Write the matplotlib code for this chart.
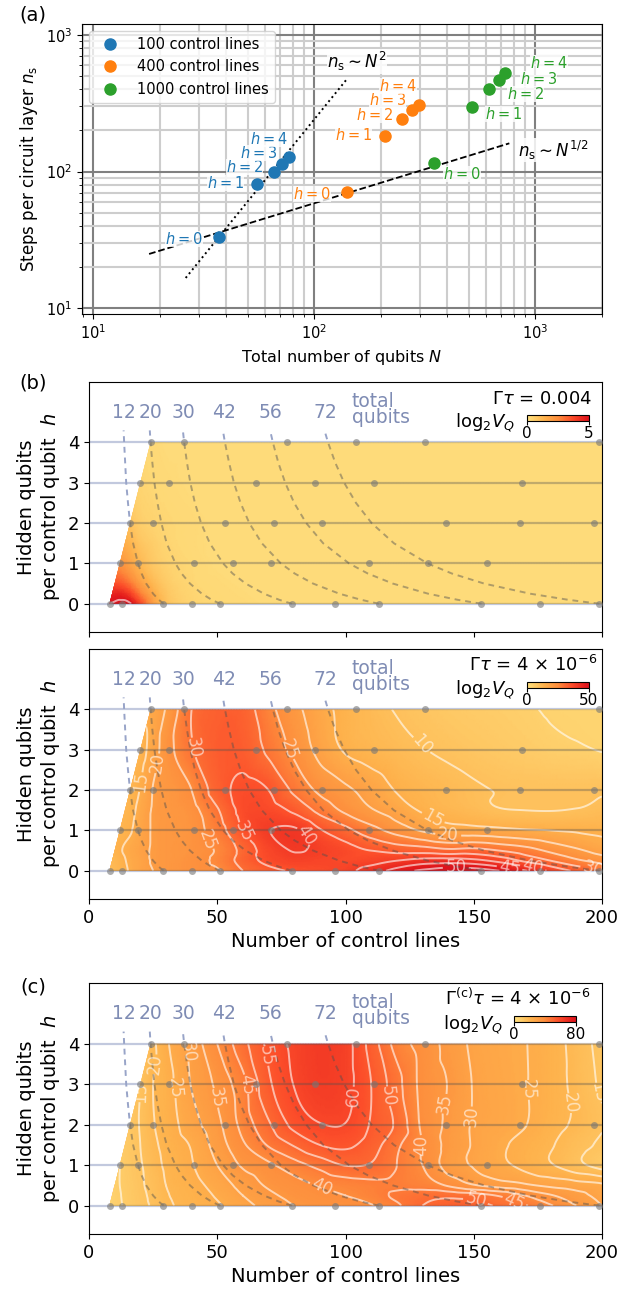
import numpy as np
import matplotlib
matplotlib.use('Agg')
import matplotlib.pyplot as plt
import matplotlib.tri as mtri
from matplotlib.patches import Polygon
from matplotlib.colors import LinearSegmentedColormap

# ---------------- panel (a) data ----------------
h_vals = [0, 1, 2, 3, 4]
N_100 = [37.2, 55.2, 65.4, 71.8, 76.9]
ns_100 = [33.4, 80.7, 100, 113.8, 127]
N_400 = [140.6, 209, 250, 277, 297]
ns_400 = [71.4, 182, 243, 282, 306]
N_1000 = [346, 515, 616, 683, 730]
ns_1000 = [116, 299, 405, 469, 530]
# guide lines n_s ~ N^(1/2) and n_s ~ N^2 (end points)
sqrt_N = [17.9, 762]
sqrt_ns = [25, 161]
sq_N = [26.2, 140.6]
sq_ns = [16.7, 476]

# label positions for the h = ... annotations
lab_100 = [(25.7, 32.0), (39.6, 83.2), (48.5, 108.5), (55.9, 137), (62.1, 172)]
lab_400 = [(97.5, 68.2), (150.3, 185.4), (186.6, 261), (214.8, 334), (238.8, 426)]
lab_1000 = [(465.6, 95.5), (721, 263), (899, 372), (1035, 476), (1151, 618)]

# ---------------- panels (b), (c) data ----------------
nc_grid = [8, 12, 16, 20, 25, 30, 40, 50, 60, 70, 80, 90, 100, 110, 120, 130, 140, 150, 160, 170, 180, 190, 200]
h_grid = [0, 0.25, 0.5, 1, 1.5, 2, 3, 4]

vq_b1 = [
    [5.0, 5.3, 5.1, 3.8, 2.0, 1.0, 0.45, 0.3, 0.25, 0.2, 0.2, 0.2, 0.2, 0.2, 0.2, 0.2, 0.2, 0.2, 0.2, 0.2, 0.2, 0.2, 0.2],
    [4.4, 4.5, 3.9, 2.8, 1.6, 0.85, 0.4, 0.28, 0.22, 0.2, 0.2, 0.2, 0.2, 0.2, 0.2, 0.2, 0.2, 0.2, 0.2, 0.2, 0.2, 0.2, 0.2],
    [3.6, 3.5, 2.9, 2.0, 1.2, 0.7, 0.35, 0.25, 0.2, 0.2, 0.2, 0.2, 0.2, 0.2, 0.2, 0.2, 0.2, 0.2, 0.2, 0.2, 0.2, 0.2, 0.2],
    [2.4, 2.3, 1.8, 1.2, 0.75, 0.5, 0.3, 0.2, 0.2, 0.2, 0.2, 0.2, 0.2, 0.2, 0.2, 0.2, 0.2, 0.2, 0.2, 0.2, 0.2, 0.2, 0.2],
    [1.7, 1.6, 1.3, 0.85, 0.6, 0.4, 0.25, 0.2, 0.2, 0.2, 0.2, 0.2, 0.2, 0.2, 0.2, 0.2, 0.2, 0.2, 0.2, 0.2, 0.2, 0.2, 0.2],
    [1.2, 1.1, 0.9, 0.6, 0.45, 0.35, 0.25, 0.2, 0.2, 0.2, 0.2, 0.2, 0.2, 0.2, 0.2, 0.2, 0.2, 0.2, 0.2, 0.2, 0.2, 0.2, 0.2],
    [0.6, 0.55, 0.5, 0.4, 0.3, 0.25, 0.2, 0.2, 0.2, 0.2, 0.2, 0.2, 0.2, 0.2, 0.2, 0.2, 0.2, 0.2, 0.2, 0.2, 0.2, 0.2, 0.2],
    [0.4, 0.35, 0.3, 0.3, 0.25, 0.2, 0.2, 0.2, 0.2, 0.2, 0.2, 0.2, 0.2, 0.2, 0.2, 0.2, 0.2, 0.2, 0.2, 0.2, 0.2, 0.2, 0.2],
]

vq_b2 = [
    [11, 13, 15.5, 18, 20, 21.5, 23.5, 24.5, 30, 33.5, 35.5, 36.5, 38.5, 42.5, 47, 51, 53.5, 53, 50, 45.5, 39, 34, 29.5],
    [11, 13.5, 16, 18, 20.5, 21.5, 23.5, 26, 32, 36.5, 38.5, 38, 37, 38, 40, 42, 42.5, 41.5, 38.5, 34, 30, 26, 23],
    [12, 14.5, 16.5, 18.5, 20.5, 21.5, 23, 25.5, 31.5, 37.5, 40.2, 39, 37, 35, 33.5, 33, 31.5, 32, 30, 27.5, 24, 21, 18],
    [12, 13, 14.5, 17.5, 20.5, 21.5, 23, 27.5, 35, 39.8, 40.8, 35.5, 31.5, 27, 23, 19.5, 17.5, 17, 16.3, 15.5, 15, 14.5, 14],
    [11, 12, 13.5, 16.5, 20.5, 21.5, 23.5, 29.5, 36.5, 37, 34, 28.5, 24, 20.5, 17.5, 14.5, 12.8, 11.5, 10.3, 10, 9.9, 10.2, 11],
    [10, 11, 12.5, 15.3, 20.2, 21.5, 25, 32.5, 36.3, 35, 29, 24, 21, 18, 14.7, 13, 11.8, 10.6, 9.8, 9.5, 9.4, 9.4, 9.6],
    [9, 10, 11.5, 13, 17.5, 22.5, 29.5, 33.5, 33.5, 29, 24, 18.5, 14.5, 12.8, 11.5, 10.2, 9.2, 8.3, 7.5, 6.8, 6, 5.5, 4.8],
    [8, 10, 12, 15, 17, 20.3, 30, 33, 32.5, 26.5, 21.5, 17, 13.5, 11.5, 9.7, 8.5, 7.5, 6.8, 6.2, 5.5, 4.6, 4.2, 4],
]

vq_c = [
    [7, 9.5, 11.5, 13.5, 15.7, 18.8, 21.8, 24.3, 28.2, 31.9, 35, 36.8, 38, 39.6, 44, 50, 53, 52.5, 49, 45.5, 40.5, 35, 30],
    [7, 9.7, 11.8, 13.8, 16.2, 19.4, 22.4, 25.6, 30, 33.8, 36.6, 38.5, 40, 42.5, 46, 48, 48.5, 47.5, 44.5, 40, 35.5, 32, 28],
    [7, 10, 12, 14.2, 16.7, 20, 23.1, 27, 31.8, 35.7, 38.1, 40.3, 42, 43.5, 44, 43, 39.5, 35.5, 33, 31, 29, 27.5, 26],
    [7, 10, 12.5, 14.5, 17.9, 20.8, 24.6, 30, 35.7, 39, 42.9, 46.7, 50.2, 49.5, 45, 40, 33, 29.5, 26.5, 23.5, 20.5, 16.5, 13],
    [7.5, 10, 12.5, 15, 18.8, 21.5, 25.5, 32.2, 39.2, 45.5, 50.5, 55, 56, 52.5, 46, 39.8, 33.5, 29.5, 26, 23.3, 20.5, 17, 14],
    [8, 10, 12.5, 15.4, 19.6, 22.2, 27.9, 33.7, 41.7, 49.3, 56.5, 59.7, 59.8, 54.5, 49, 39, 34, 29.5, 27.5, 25.2, 22, 19, 15.5],
    [8, 10, 12.5, 15, 20, 22.8, 30.3, 36.1, 43.5, 54, 60.2, 63.5, 61.8, 55, 46.8, 38.5, 34.8, 29.7, 27.5, 25.3, 22.5, 18.5, 14],
    [8, 10, 12.5, 15.5, 19, 24, 31.6, 40, 48.3, 56.2, 61.2, 64, 62, 53, 43, 38, 33.5, 29, 27, 25.2, 22.5, 18, 13],
]

# computed (nc, h) points shown as grey dots
dots = {
    0: [8, 13, 29, 40, 51, 79, 96, 113, 153, 176, 199],
    1: [12, 19, 41, 56, 71, 109, 132, 155],
    2: [16, 25, 53, 72, 91, 139, 168, 197],
    3: [20, 31, 65, 88, 111, 169],
    4: [24, 37, 77, 104, 131, 199],
}

# lines of constant total qubit number
iso_h = [0, 0.1, 0.25, 0.5, 0.75, 1, 1.5, 2, 2.5, 3, 3.5, 4, 4.3]
iso_curves = {
    12: [29.1, 27.2, 25.0, 22.3, 20.5, 19.1, 17.2, 16.0, 15.2, 14.5, 14.1, 13.7, 13.5],
    20: [51.1, 47.8, 44.0, 39.4, 36.1, 33.7, 30.3, 28.2, 26.7, 25.5, 24.7, 24.0, 23.7],
    30: [79.1, 74.1, 68.2, 61.1, 56.0, 52.3, 47.1, 43.7, 41.3, 39.5, 38.2, 37.1, 36.6],
    42: [113.0, 106.0, 97.6, 87.4, 80.2, 74.8, 67.4, 62.5, 59.1, 56.5, 54.6, 53.0, 52.2],
    56: [153.0, 143.6, 132.2, 118.5, 108.7, 101.4, 91.3, 84.7, 80.0, 76.5, 73.8, 71.7, 70.6],
    72: [199.0, 186.7, 172.0, 154.1, 141.5, 132.0, 118.9, 110.2, 104.1, 99.5, 96.0, 93.2, 91.8],
}
iso_label_x = {12: 13.7, 20: 23.8, 30: 36.7, 42: 52.6, 56: 70.9, 72: 92.3}
region = [(8, 0), (24, 4), (200, 4), (200, 0)]

lab_b2 = [(20, 2.2), (26, 2.67), (39.5, 3.05), (47, 0.78), (60.7, 0.98), (82.8, 0.81), (78, 3.0),
          (132.8, 3.25), (134, 1.3), (140, 0.87), (143, 0.08), (164, 0.08), (173, 0.08), (197, 0.12)]
lab_c = [(19.7, 2.8), (24.4, 3.5), (33.2, 2.9), (37.9, 3.8), (49, 2.66), (61.7, 3.0), (69.7, 3.7),
         (101.5, 2.7), (116, 2.7), (91, 0.48), (129.6, 1.5), (140.6, 2.5), (150.4, 2.2), (171.2, 2.86),
         (187.4, 2.53), (197.2, 2.78), (150.6, 0.1), (165.7, 0.1)]

cmap = LinearSegmentedColormap.from_list('vq', plt.cm.YlOrRd(np.linspace(0.22, 0.78, 256)))
slate = '#7f8cb4'

fig = plt.figure(figsize=(6.41, 12.93), dpi=100)

# ---------------- panel (a) ----------------
ax = fig.add_axes([82/641, 1-314/1293, 520/641, 290/1293])
ax.set_xscale('log')
ax.set_yscale('log')
ax.grid(which='major', color='#808080', lw=1.5)
ax.grid(which='minor', color='#cdcdcd', lw=1.5)
ax.set_axisbelow(True)
ax.plot(sqrt_N, sqrt_ns, 'k--', lw=1.3, zorder=2)
ax.plot(sq_N, sq_ns, 'k:', lw=1.4, zorder=2)
for N, ns, lab, col, name in [(N_100, ns_100, lab_100, 'tab:blue', '100 control lines'),
                              (N_400, ns_400, lab_400, 'tab:orange', '400 control lines'),
                              (N_1000, ns_1000, lab_1000, 'tab:green', '1000 control lines')]:
    ax.plot(N, ns, 'o', ms=8, color=col, label=name, zorder=3)
    for k, (tx, ty) in zip(h_vals, lab):
        ax.text(tx, ty, '$h=%d$' % k, color=col, fontsize=10.5, ha='center', va='center',
                bbox=dict(fc='white', ec='none', pad=0.0, alpha=0.8), zorder=4)
ax.text(156, 638, r'$n_\mathrm{s} \sim N^2$', fontsize=12, ha='center', va='center',
        bbox=dict(fc='white', ec='none', pad=0.5, alpha=0.85), zorder=4)
ax.text(1200, 144, r'$n_\mathrm{s} \sim N^{1/2}$', fontsize=12, ha='center', va='center',
        bbox=dict(fc='white', ec='none', pad=0.5, alpha=0.85), zorder=4)
ax.set_xlim(8.9, 2000)
ax.set_ylim(9.1, 1200)
ax.tick_params(labelsize=10.5)
ax.set_xlabel('Total number of qubits $N$', fontsize=11.5)
ax.set_ylabel(r'Steps per circuit layer $n_\mathrm{s}$', fontsize=12)
ax.legend(loc='upper left', fontsize=10.5, handletextpad=0.9)
fig.text(33/641, 1-15/1293, '(a)', fontsize=14, ha='center', va='center')


def heat_panel(ax, vq, vmax, levels, labels, title, title_x, cbar_x, log_x):
    X, H = np.meshgrid(nc_grid, h_grid)
    z = np.asarray(vq, float).ravel()
    tri = mtri.Triangulation(X.ravel() / 40.0, H.ravel())
    interp = mtri.CubicTriInterpolator(tri, z, kind='geom')
    tri_f, z_f = mtri.UniformTriRefiner(tri).refine_field(z, triinterpolator=interp, subdiv=4)
    tri_f = mtri.Triangulation(tri_f.x * 40.0, tri_f.y, tri_f.triangles)

    clip = Polygon(region, closed=True, fc='none', ec='none')
    ax.add_patch(clip)

    for hv in range(5):
        ax.axhline(hv, color='#c2c9de', lw=1.6, zorder=1)
    for N, xs in iso_curves.items():
        ax.plot(xs, iso_h, ls=(0, (3, 2.5)), color='#98a4c8', lw=1.4, zorder=1)
        ax.text(iso_label_x[N], 4.75, str(N), color=slate, fontsize=13.5, ha='center', va='center')
    ax.text(102.4, 4.82, 'total\nqubits', color=slate, fontsize=13.5, ha='left', va='center',
            linespacing=0.85)

    tpc = ax.tripcolor(tri_f, z_f, shading='gouraud', cmap=cmap, vmin=0, vmax=vmax, zorder=1.5)
    tpc.set_clip_path(clip)
    cs = ax.tricontour(tri_f, z_f, levels=levels, colors='white', linewidths=1.4, alpha=0.6, zorder=2)
    cs.set_clip_path(clip)
    if labels:
        ax.clabel(cs, manual=labels, fmt='%d', fontsize=12, colors='white', inline=True,
                  inline_spacing=3)

    for hv in range(5):
        g = ax.axhline(hv, color='#505050', alpha=0.35, lw=1.6, zorder=3)
        g.set_clip_path(clip)
    for N, xs in iso_curves.items():
        g, = ax.plot(xs, iso_h, ls=(0, (3, 2.5)), color='#505050', alpha=0.45, lw=1.4, zorder=3)
        g.set_clip_path(clip)
    for hv, xs in dots.items():
        ax.plot(xs, [hv] * len(xs), 'o', color='#777777', alpha=0.6, ms=5, mec='none', zorder=4,
                clip_on=False)

    ax.set_xlim(0, 200)
    ax.set_ylim(-0.7, 5.5)
    ax.set_xticks([0, 50, 100, 150, 200])
    ax.set_yticks([0, 1, 2, 3, 4])
    ax.tick_params(labelsize=13)
    ax.set_ylabel('Hidden qubits\nper control qubit  $h$', fontsize=14)

    ax.text(title_x, 0.912, title, transform=ax.transAxes, ha='right', va='baseline', fontsize=13)
    ax.text(log_x, 0.816, r'log$_2V_Q$', transform=ax.transAxes, ha='right', va='baseline',
            fontsize=13)
    cax = ax.inset_axes([cbar_x, 0.845, 0.121, 0.024])
    cb = fig.colorbar(tpc, cax=cax, orientation='horizontal', ticks=[0, vmax])
    cb.outline.set_linewidth(0.8)
    cax.tick_params(labelsize=11, length=3, pad=1)


ax_b1 = fig.add_axes([89/641, 1-632/1293, 513/641, 250/1293])
heat_panel(ax_b1, vq_b1, 5, [5], None, r'$\Gamma\tau$ = 0.004', 0.98, 0.854, 0.830)
ax_b1.tick_params(labelbottom=False)
fig.text(33/641, 1-383/1293, '(b)', fontsize=14, ha='center', va='center')

ax_b2 = fig.add_axes([89/641, 1-899/1293, 513/641, 250/1293])
heat_panel(ax_b2, vq_b2, 50, np.arange(5, 55, 5), lab_b2, r'$\Gamma\tau$ = 4 $\times$ 10$^{-6}$',
           0.99, 0.853, 0.830)
ax_b2.set_xlabel('Number of control lines', fontsize=14)

ax_c = fig.add_axes([89/641, 1-1234/1293, 513/641, 251/1293])
heat_panel(ax_c, vq_c, 80, np.arange(5, 85, 5), lab_c,
           r'$\Gamma^{\mathrm{(c)}}\tau$ = 4 $\times$ 10$^{-6}$', 0.977, 0.828, 0.807)
ax_c.set_xlabel('Number of control lines', fontsize=14)
fig.text(33/641, 1-987/1293, '(c)', fontsize=14, ha='center', va='center')

fig.savefig('out.png', dpi=100)
